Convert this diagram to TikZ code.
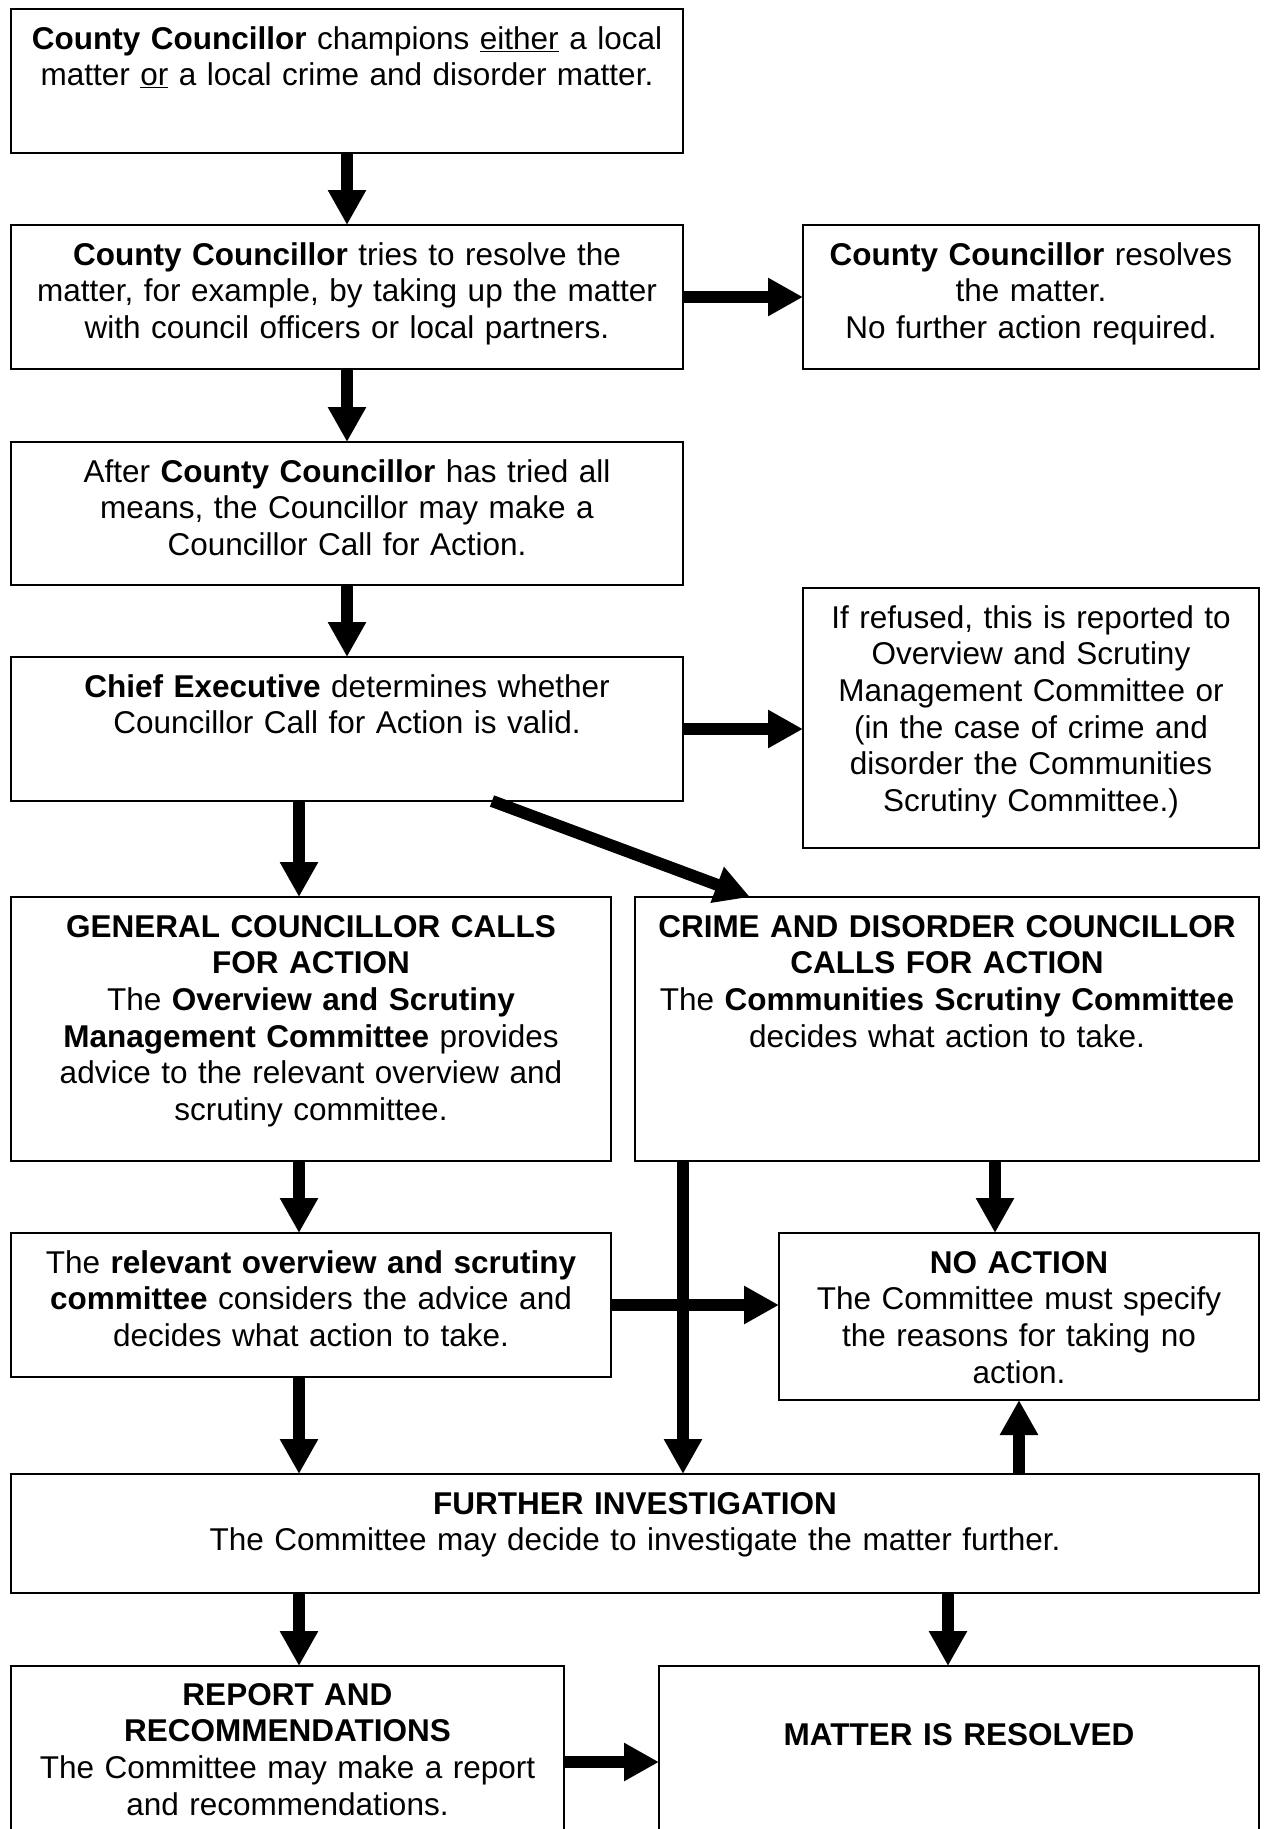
\documentclass[tikz,border=0pt]{standalone}
\usepackage{fontspec}
\setmainfont{Liberation Sans}
\usetikzlibrary{arrows.meta}
\begin{document}
\begin{tikzpicture}[x=1pt,y=-1pt,
  box/.style={draw=black, line width=1.5pt, inner sep=0pt, outer sep=0pt},
  txt/.style={inner sep=0pt, outer sep=0pt, align=center, anchor=base, font=\fontsize{31.5}{36.7}\selectfont},
  arr/.style={line width=12pt, -{Triangle[length=35pt,width=36pt]}}]
\useasboundingbox (0,0) rectangle (1265,1829);
\clip (0,0) rectangle (1265,1829);
\fill[white] (0,0) rectangle (1265,1829);
% boxes
\node[box, minimum width=672pt, minimum height=144pt] (b1) at (347,81) {};
\node[box, minimum width=672pt, minimum height=144pt] (b2) at (347,297) {};
\node[box, minimum width=456pt, minimum height=144pt] (b2r) at (1031,297) {};
\node[box, minimum width=672pt, minimum height=143pt] (b3) at (347,513.5) {};
\node[box, minimum width=672pt, minimum height=144pt] (b4) at (347,729) {};
\node[box, minimum width=456pt, minimum height=260pt] (b4r) at (1031,718) {};
\node[box, minimum width=600pt, minimum height=264pt] (b5l) at (311,1029) {};
\node[box, minimum width=624pt, minimum height=264pt] (b5r) at (947,1029) {};
\node[box, minimum width=600pt, minimum height=144pt] (b6l) at (311,1305) {};
\node[box, minimum width=480pt, minimum height=167pt] (bna) at (1019,1316.5) {};
\node[box, minimum width=1248pt, minimum height=119pt] (bfi) at (635,1533.5) {};
\node[box, minimum width=553pt, minimum height=174pt] (brep) at (287.5,1753) {};
\node[box, minimum width=600pt, minimum height=174pt] (bres) at (959,1753) {};
% texts
\node[txt, text width=672pt] (t1) at (347,49) {\textbf{County Councillor} champions \underline{either} a local\\ matter \underline{or} a local crime and disorder matter.};
\node[txt, text width=672pt] (t2) at (347,265) {\textbf{County Councillor} tries to resolve the\\ matter, for example, by taking up the matter\\ with council officers or local partners.};
\node[txt, text width=456pt] (t2r) at (1031,265) {\textbf{County Councillor} resolves\\ the matter.\\ No further action required.};
\node[txt, text width=672pt] (t3) at (347,482) {After \textbf{County Councillor} has tried all\\ means, the Councillor may make a\\ Councillor Call for Action.};
\node[txt, text width=672pt] (t4) at (347,697) {\textbf{Chief Executive} determines whether\\ Councillor Call for Action is valid.};
\node[txt, text width=456pt] (t4r) at (1031,628) {If refused, this is reported to\\ Overview and Scrutiny\\ Management Committee or\\ (in the case of crime and\\ disorder the Communities\\ Scrutiny Committee.)};
\node[txt, text width=600pt] (t5l) at (311,937) {\textbf{GENERAL COUNCILLOR CALLS}\\ \textbf{FOR ACTION}\\ The \textbf{Overview and Scrutiny}\\ \textbf{Management Committee} provides\\ advice to the relevant overview and\\ scrutiny committee.};
\node[txt, text width=624pt] (t5r) at (947,937) {\textbf{CRIME AND DISORDER COUNCILLOR}\\ \textbf{CALLS FOR ACTION}\\ The \textbf{Communities Scrutiny Committee}\\ decides what action to take.};
\node[txt, text width=600pt] (t6l) at (311,1273) {The \textbf{relevant overview and scrutiny}\\ \textbf{committee} considers the advice and\\ decides what action to take.};
\node[txt, text width=480pt] (tna) at (1019,1273) {\textbf{NO ACTION}\\ The Committee must specify\\ the reasons for taking no\\ action.};
\node[txt, text width=1248pt] (tfi) at (635,1514) {\textbf{FURTHER INVESTIGATION}\\ The Committee may decide to investigate the matter further.};
\node[txt, text width=553pt] (trep) at (287.5,1705) {\textbf{REPORT AND}\\ \textbf{RECOMMENDATIONS}\\ The Committee may make a report\\ and recommendations.};
\node[txt, text width=600pt] (tres) at (959,1745) {\textbf{MATTER IS RESOLVED}};
% helper coordinates
\coordinate (colL) at (299,0);
\coordinate (colM) at (683,0);
\coordinate (colR) at (995,0);
\coordinate (colRes) at (948,0);
\coordinate (d1) at (492,0);
\coordinate (d2) at (750,0);
\coordinate (rowRep) at (0,1762);
% arrows
\draw[arr] (b1.south) -- (b2.north);
\draw[arr] (b2.east) -- (b2r.west);
\draw[arr] (b2.south) -- (b3.north);
\draw[arr] (b3.south) -- (b4.north);
\draw[arr] (b4.east) -- (b4r.west |- b4.east);
\draw[arr] (b4.south -| colL) -- (b5l.north -| colL);
\draw[arr] (b4.south -| d1) -- (b5r.north -| d2);
\draw[arr] (b5l.south -| colL) -- (b6l.north -| colL);
\draw[arr] (b5r.south -| colM) -- (bfi.north -| colM);
\draw[arr] (b5r.south -| colR) -- (bna.north -| colR);
\draw[arr] (b6l.east) -- (bna.west |- b6l.east);
\draw[arr] (b6l.south -| colL) -- (bfi.north -| colL);
\draw[arr] (bfi.north -| bna.south) -- (bna.south);
\draw[arr] (bfi.south -| colL) -- (brep.north -| colL);
\draw[arr] (bfi.south -| colRes) -- (bres.north -| colRes);
\draw[arr] (brep.east |- rowRep) -- (bres.west |- rowRep);
\end{tikzpicture}
\end{document}
